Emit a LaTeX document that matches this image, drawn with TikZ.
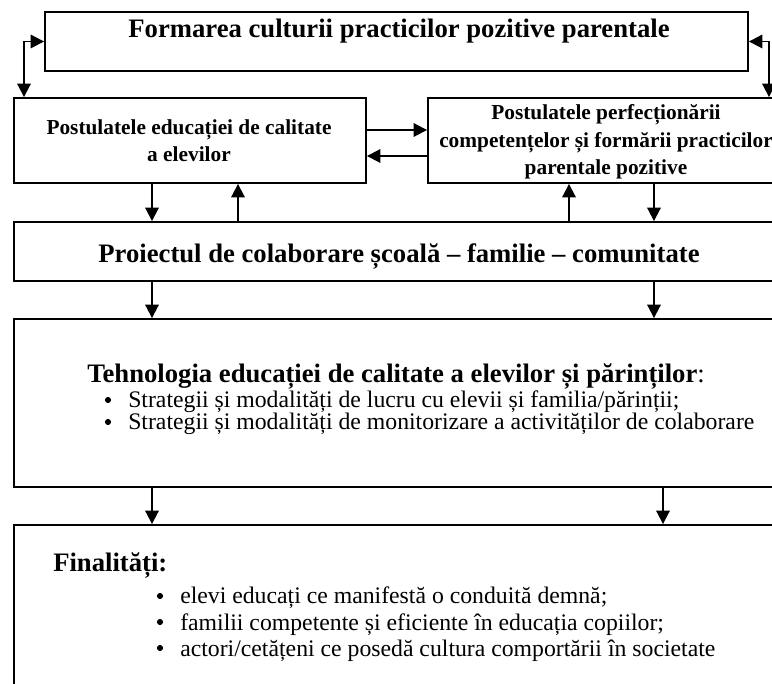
\documentclass[tikz,border=0pt]{standalone}
\usepackage{fontspec}
\setmainfont{Liberation Serif}
\usetikzlibrary{arrows.meta,fit}
\begin{document}
\begin{tikzpicture}[x=0.75pt,y=-0.75pt,
  box/.style={draw, line width=1.4pt, inner sep=0pt},
  arr/.style={line width=1.4pt, -{Triangle[length=10pt,width=10pt]}},
  darr/.style={line width=1.4pt, {Triangle[length=10pt,width=10pt]}-{Triangle[length=10pt,width=10pt]}},
  big/.style={inner sep=0pt, font=\fontsize{20pt}{24pt}\selectfont\bfseries},
  mid/.style={inner sep=0pt, anchor=base, font=\fontsize{16pt}{19pt}\selectfont\bfseries},
  item/.style={inner sep=0pt, anchor=base west, font=\fontsize{17.8pt}{21pt}\selectfont},
  dot/.style={circle, fill, inner sep=0pt, minimum size=4.6pt},
]
\useasboundingbox (0,0) rectangle (772,684);
% boxes
\node[box, fit={(45,12) (748,71)}] (top) {};
\node[box, fit={(14,98) (366,183)}] (lbox) {};
\node[box, fit={(428,98) (800,183)}] (rbox) {};
\node[box, fit={(14,222) (800,281)}] (proj) {};
\node[box, fit={(14,319) (800,487)}] (tech) {};
\node[box, fit={(14,525) (800,720)}] (fin) {};
% helper coordinates
\coordinate (xL) at (24,0);
\coordinate (xR) at (769,0);
\coordinate (ya) at (0,130);
\coordinate (yb) at (0,156);
\coordinate (x1) at (152,0);
\coordinate (x2) at (238,0);
\coordinate (x3) at (569,0);
\coordinate (x4) at (654,0);
\coordinate (x5) at (663,0);
% connectors
\draw[darr] (top.west) -| (xL |- lbox.north);
\draw[darr] (top.east) -| (xR |- rbox.north);
\draw[arr] (lbox.east |- ya) -- (rbox.west |- ya);
\draw[arr] (rbox.west |- yb) -- (lbox.east |- yb);
\draw[arr] (x1 |- lbox.south) -- (x1 |- proj.north);
\draw[arr] (x2 |- proj.north) -- (x2 |- lbox.south);
\draw[arr] (x3 |- proj.north) -- (x3 |- rbox.south);
\draw[arr] (x4 |- rbox.south) -- (x4 |- proj.north);
\draw[arr] (x1 |- proj.south) -- (x1 |- tech.north);
\draw[arr] (x4 |- proj.south) -- (x4 |- tech.north);
\draw[arr] (x1 |- tech.south) -- (x1 |- fin.north);
\draw[arr] (x5 |- tech.south) -- (x5 |- fin.north);
% texts
\node[big, anchor=base] (ttop) at (399,38) {Formarea culturii practicilor pozitive parentale};
\node[mid] (tl1) at (189,135) {Postulatele educației de calitate};
\node[mid] (tl2) at (189,162) {a elevilor};
\node[mid] (tr1) at (606,120) {Postulatele perfecționării};
\node[mid] (tr2) at (606,148) {competențelor și formării practicilor};
\node[mid] (tr3) at (606,175) {parentale pozitive};
\node[big, anchor=base] (tproj) at (399,263) {Proiectul de colaborare școală – familie – comunitate};
\node[big, anchor=base west] (ttech) at (87,383) {Tehnologia educației de calitate a elevilor și părinților\mdseries:};
\node[dot] (b1) at (108,400) {};
\node[item] (s1) at (128,408) {Strategii și modalități de lucru cu elevii și familia/părinții;};
\node[dot] (b2) at (108,422) {};
\node[item] (s2) at (128,430) {Strategii și modalități de monitorizare a activităților de colaborare};
\node[big, anchor=base west] (tfin) at (53,571) {Finalități:};
\node[dot] (b3) at (160,596) {};
\node[item] (f1) at (180,604) {elevi educați ce manifestă o conduită demnă;};
\node[dot] (b4) at (160,622) {};
\node[item] (f2) at (180,630) {familii competente și eficiente în educația copiilor;};
\node[dot] (b5) at (160,648) {};
\node[item] (f3) at (180,656) {actori/cetățeni ce posedă cultura comportării în societate};
\end{tikzpicture}
\end{document}
